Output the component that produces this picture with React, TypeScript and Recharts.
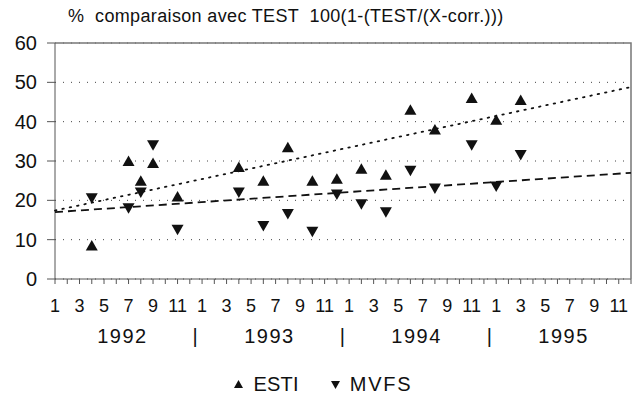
import { ScatterChart, Scatter, XAxis, YAxis, CartesianGrid, Legend } from 'recharts';

// month index: 0 = janvier 1992 ... 47 = décembre 1995
const ESTI_MONTHS = [3, 6, 7, 8, 10, 15, 17, 19, 21, 23, 25, 27, 29, 31, 34, 36, 38];
const ESTI_VALUES = [8.5, 30, 25, 29.5, 21, 28.5, 25, 33.5, 25, 25.5, 28, 26.5, 43, 38, 46, 40.5, 45.5];
const MVFS_MONTHS = [3, 6, 7, 8, 10, 15, 17, 19, 21, 23, 25, 27, 29, 31, 34, 36, 38];
const MVFS_VALUES = [20.5, 18, 22, 34, 12.5, 22, 13.5, 16.5, 12, 21.5, 19, 17, 27.5, 23, 34, 23.5, 31.5];

const TREND_MONTHS = [0, 47];
const ESTI_TREND = [17.4, 48.8];
const MVFS_TREND = [17, 27];

const MONTH_LABELS = ['1', '', '3', '', '5', '', '7', '', '9', '', '11', ''];
const YEARS = ['1992', '1993', '1994', '1995'];
const Y_TICKS = [0, 10, 20, 30, 40, 50, 60];
const X_DOMAIN = [0, 47];
const Y_DOMAIN = [0, 60];

const FONT = '"Liberation Sans", Arial, sans-serif';

const esti = ESTI_MONTHS.map((m, k) => ({ m, v: ESTI_VALUES[k] }));
const mvfs = MVFS_MONTHS.map((m, k) => ({ m, v: MVFS_VALUES[k] }));
const estiTrend = TREND_MONTHS.map((m, k) => ({ m, v: ESTI_TREND[k] }));
const mvfsTrend = TREND_MONTHS.map((m, k) => ({ m, v: MVFS_TREND[k] }));
// cadre : coin haut-gauche -> haut-droit -> bas-droit
const frame = [
  { m: X_DOMAIN[0], v: Y_DOMAIN[1] },
  { m: X_DOMAIN[1], v: Y_DOMAIN[1] },
  { m: X_DOMAIN[1], v: Y_DOMAIN[0] },
];

const monthTicks = YEARS.flatMap((_, y) => MONTH_LABELS.map((_, k) => y * 12 + k));
const yearTicks = YEARS.flatMap((_, y) => (y < YEARS.length - 1 ? [y * 12 + 5.5, y * 12 + 11.5] : [y * 12 + 5.5]));

function yearLabel(t: number) {
  if (t % 12 === 11.5) return '|';
  return YEARS[Math.floor(t / 12)];
}

const UpTri = ({ cx, cy }: any) => (
  <polygon points={`${cx},${cy - 5.5} ${cx + 6},${cy + 5} ${cx - 6},${cy + 5}`} fill="#111" />
);
const DownTri = ({ cx, cy }: any) => (
  <polygon points={`${cx - 6},${cy - 5} ${cx + 6},${cy - 5} ${cx},${cy + 5.5}`} fill="#111" />
);
const NoDot = () => <g />;

function LegendBox() {
  const item = (up: boolean, name: string) => (
    <span style={{ display: 'inline-flex', alignItems: 'center', gap: 10 }}>
      <svg width={9} height={9}>
        <polygon points={up ? '4.5,0 9,8 0,8' : '0,1 9,1 4.5,9'} fill="#111" />
      </svg>
      <span style={{ fontSize: 20, letterSpacing: up ? 0.2 : 1.8 }}>{name}</span>
    </span>
  );
  return (
    <div style={{ height: 48, display: 'flex', justifyContent: 'center', alignItems: 'flex-end', gap: 32, fontFamily: FONT, color: '#111', paddingLeft: 16, boxSizing: 'border-box', paddingBottom: 3 }}>
      {item(true, 'ESTI')}
      {item(false, 'MVFS')}
    </div>
  );
}

export default function App() {
  return (
    <div style={{ position: 'absolute', left: 0, top: 0, width: 642, height: 399, background: '#fff', fontFamily: FONT }}>
      <div style={{ position: 'absolute', left: 68, top: 6, fontSize: 18, color: '#111', whiteSpace: 'pre', letterSpacing: 0.35 }}>
        {'%  comparaison avec TEST  100(1-(TEST/(X-corr.)))'}
      </div>
      <ScatterChart width={642} height={399} margin={{ top: 43, right: 11, bottom: 0, left: 0 }}>
        <CartesianGrid vertical={false} stroke="#444" strokeDasharray="1 7" />
        <XAxis
          xAxisId="m"
          type="number"
          dataKey="m"
          domain={X_DOMAIN}
          ticks={monthTicks}
          interval={0}
          tickFormatter={(t: number) => MONTH_LABELS[t % 12]}
          height={32}
          tickSize={5}
          tickMargin={15}
          stroke="#555"
          tick={{ fill: '#111', fontSize: 18, fontFamily: FONT }}
        />
        <XAxis
          xAxisId="y"
          type="number"
          dataKey="m"
          domain={X_DOMAIN}
          ticks={yearTicks}
          interval={0}
          tickFormatter={yearLabel}
          height={40}
          axisLine={false}
          tickLine={false}
          tickSize={0}
          tickMargin={18}
          tick={{ fill: '#111', fontSize: 20, fontFamily: FONT, letterSpacing: 1.5 }}
        />
        <YAxis
          type="number"
          dataKey="v"
          domain={Y_DOMAIN}
          ticks={Y_TICKS}
          interval={0}
          width={55}
          tickSize={8}
          tickMargin={10}
          stroke="#555"
          tick={{ fill: '#111', fontSize: 20, fontFamily: FONT }}
        />
        <Legend verticalAlign="bottom" content={() => <LegendBox />} />
        <Scatter
          xAxisId="m"
          data={frame}
          shape={NoDot}
          line={{ stroke: '#777', strokeWidth: 1.5 }}
          legendType="none"
          isAnimationActive={false}
        />
        <Scatter xAxisId="m" name="ESTI" data={esti} shape={UpTri} isAnimationActive={false} />
        <Scatter xAxisId="m" name="MVFS" data={mvfs} shape={DownTri} isAnimationActive={false} />
        <Scatter
          xAxisId="m"
          data={estiTrend}
          shape={NoDot}
          line={{ stroke: '#111', strokeWidth: 1.8, strokeDasharray: '1.5 6', strokeLinecap: 'round' }}
          legendType="none"
          isAnimationActive={false}
        />
        <Scatter
          xAxisId="m"
          data={mvfsTrend}
          shape={NoDot}
          line={{ stroke: '#111', strokeWidth: 1.8, strokeDasharray: '8 5' }}
          legendType="none"
          isAnimationActive={false}
        />
        {/* ancre l'axe des années sur les mêmes mois */}
        <Scatter xAxisId="y" data={mvfsTrend} shape={NoDot} legendType="none" isAnimationActive={false} />
      </ScatterChart>
    </div>
  );
}
